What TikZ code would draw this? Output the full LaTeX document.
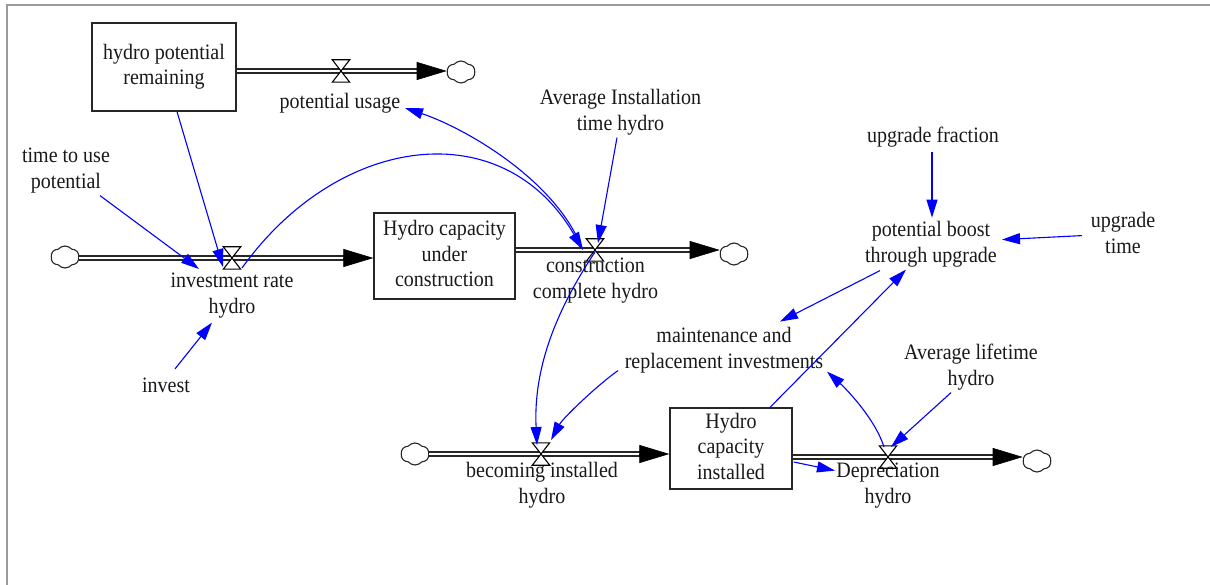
\documentclass[tikz,border=0pt]{standalone}
\usepackage{fontspec}
\setmainfont{Liberation Serif}[FakeStretch=0.91]
\usetikzlibrary{arrows.meta,calc,shapes.symbols}
\definecolor{framegray}{RGB}{155,155,155}
\begin{document}
\begin{tikzpicture}[x=1pt,y=-1pt,
  lbl/.style={font=\fontsize{22}{25.5}\selectfont, align=center, inner sep=0pt, text=black!90},
  stock/.style={draw=black!85, line width=1.3pt, lbl},
  valvebox/.style={minimum width=17pt, minimum height=22pt, inner sep=0pt},
  valveline/.style={draw=black, fill=white, line width=1.1pt, line join=miter},
  cloudnode/.style={cloud, draw=black!85, line width=1.1pt, cloud puffs=6, cloud puff arc=100, aspect=1.25, minimum width=28pt, minimum height=22pt, inner sep=0pt},
  pipe/.style={draw=black!85, double=white, line width=1.6pt, double distance=2.6pt, shorten >=28pt},
  flowhead/.style={-{Triangle[length=30pt,width=18pt]}, line width=0.6pt, draw=black, fill=black},
  infl/.style={draw=blue, line width=1.1pt, -{Triangle[length=18pt,width=11pt]}}
]
\useasboundingbox (0,0) rectangle (1210,585);
\draw[framegray, line width=2pt] (6.5,585) -- (6.5,5.5) -- (1210,5.5);

% stocks
\node[stock, minimum width=144pt, minimum height=88pt] (hpr) at (164,67) {\strut hydro potential\\remaining\strut};
\node[stock, minimum width=141pt, minimum height=86pt] (hcuc) at (444.5,256) {\strut Hydro capacity\\under\\construction\strut};
\node[stock, minimum width=122pt, minimum height=81pt] (hci) at (731,448.5) {\strut Hydro\\capacity\\installed\strut};

% valves
\node[valvebox] (v1) at (341,71) {};
\node[valvebox] (v2) at (232,258) {};
\node[valvebox] (v3) at (595,250) {};
\node[valvebox] (v4) at (541,454) {};
\node[valvebox] (v5) at (888,457) {};

% clouds
\node[cloudnode] (c1) at (461,72) {};
\node[cloudnode] (c2) at (65,257) {};
\node[cloudnode] (c3) at (734,254) {};
\node[cloudnode] (c4) at (415,454) {};
\node[cloudnode] (c5) at (1037,461) {};

% pipes
\draw[pipe] (hpr.east |- v1) -- (c1.west |- v1);
\draw[flowhead] ($(c1.west |- v1)+(-30,0)$) -- (c1.west |- v1);
\draw[pipe] (c2.east |- v2) -- (hcuc.west |- v2);
\draw[flowhead] ($(hcuc.west |- v2)+(-30,0)$) -- (hcuc.west |- v2);
\draw[pipe] (hcuc.east |- v3) -- (c3.west |- v3);
\draw[flowhead] ($(c3.west |- v3)+(-30,0)$) -- (c3.west |- v3);
\draw[pipe] (c4.east |- v4) -- (hci.west |- v4);
\draw[flowhead] ($(hci.west |- v4)+(-30,0)$) -- (hci.west |- v4);
\draw[pipe] (hci.east |- v5) -- (c5.west |- v5);
\draw[flowhead] ($(c5.west |- v5)+(-30,0)$) -- (c5.west |- v5);

\foreach \v in {v1,v2,v3,v4,v5}
  \draw[valveline] (\v.north west) -- (\v.north east) -- (\v.south west) -- (\v.south east) -- cycle;

% labels
\node[lbl] (pu) at (340,103) {\strut potential usage\strut};
\node[lbl] (ttu) at (66,170.6) {\strut time to use\\potential\strut};
\node[lbl] (irh) at (232,295.6) {\strut investment rate\\hydro\strut};
\node[lbl] (cch) at (595.5,280.6) {\strut construction\\complete hydro\strut};
\node[lbl] (ait) at (620.5,112.6) {\strut Average Installation\\time hydro\strut};
\node[lbl] (bih) at (542,485.6) {\strut becoming installed\\hydro\strut};
\node[lbl] (dh) at (888,485.6) {\strut Depreciation\\hydro\strut};
\node[lbl] (mr) at (724,350.6) {\strut maintenance and\\replacement investments\strut};
\node[lbl] (al) at (971,367.6) {\strut Average lifetime\\hydro\strut};
\node[lbl] (uf) at (933,137.9) {\strut upgrade fraction\strut};
\node[lbl] (pb) at (931,244.6) {\strut potential boost\\through upgrade\strut};
\node[lbl] (ut) at (1123,235.6) {\strut upgrade\\time\strut};
\node[lbl] (inv) at (166,386.9) {\strut invest\strut};

% influences (curved)
\draw[infl] ($(v2)+(10,10)$) .. controls (338,134) and (503,112) .. ($(v3)+(-12,0)$);
\draw[infl] ($(v3)+(-18,-13)$) .. controls (545.5,174) and (462,127) .. ($(pu)+(65,5)$);
\draw[infl] ($(v3)+(0,2)$) .. controls (551,318) and (533.5,375) .. ($(v4)+(-4,-9)$);
\draw[infl] ($(mr)+(-106,20)$) .. controls (597.5,385) and (563,418) .. ($(v4)+(10,-14)$);
\draw[infl] ($(v5)+(-4,-10)$) .. controls (875,418.5) and (845.75,388.5) .. ($(mr)+(103,21)$);

% influences (straight)
\draw[infl] ($(hpr.south)+(13,0)$) -- ($(v2)+(-9,9)$);
\draw[infl] ($(ttu)+(34,25)$) -- ($(v2)+(-33,11)$);
\draw[infl] ($(ait)+(-3.5,25)$) -- ($(v3)+(3,-7)$);
\draw[infl] ($(uf)+(-1,14)$) -- ($(pb)+(1,-27)$);
\draw[infl] ($(ut)+(-41,0)$) -- ($(pb)+(71,-5)$);
\draw[infl] ($(pb)+(-51,26)$) -- ($(mr)+(56,-29)$);
\draw[infl] ($(hci.north)+(39,0)$) -- ($(pb)+(-25,25)$);
\draw[infl] ($(al)+(-20,25)$) -- ($(v5)+(3,-10)$);
\draw[infl] ($(hci.east)+(1,13.5)$) -- ($(dh)+(-53,-15)$);
\draw[infl] ($(inv)+(9,-18)$) -- ($(irh)+(-20,27)$);
\end{tikzpicture}
\end{document}
